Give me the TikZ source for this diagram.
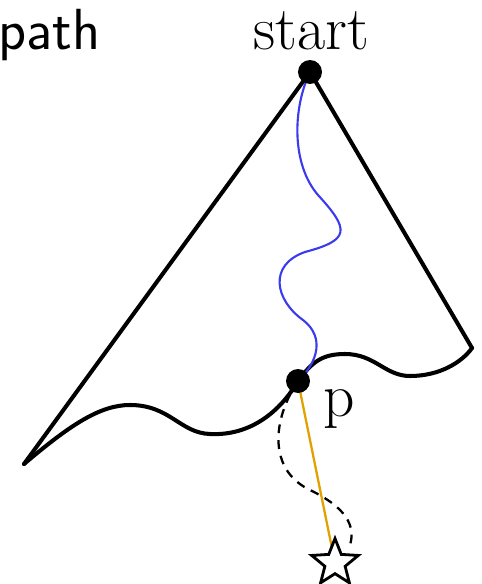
\documentclass[tikz,border=0pt]{standalone}
\usepackage{xcolor}
\usetikzlibrary{shapes.geometric,backgrounds}
\definecolor{walk}{HTML}{3A3AEE}
\definecolor{ray}{HTML}{E3A100}
\tikzset{
  dot/.style={circle, fill=black, inner sep=0pt, minimum size=0.48cm},
  edge/.style={line width=2.3pt, line cap=round, line join=round},
  lbl/.style={font=\fontsize{35}{40}\selectfont, inner sep=0pt},
  goalstar/.style={star, star points=5, star point ratio=2.3, draw, line width=1.6pt, fill=white, minimum size=0.98cm, inner sep=0pt},
}

\begin{document}
\begin{tikzpicture}[x=0.02cm, y=-0.02cm]
  \useasboundingbox (0,0) rectangle (481,584);
  % corners of the region
  \coordinate (lc) at (24,464);
  \coordinate (rc) at (472,348);
  \node[dot] (s) at (310,72) {};
  \node[dot] (p) at (298,381) {};
  \node[goalstar] (goal) at (335,563) {};
  \coordinate (dend) at (350,545);

  \node[lbl, font=\fontsize{33}{40}\selectfont\sffamily, anchor=base west] (tpath) at (-2,50) {path};
  \node[lbl, anchor=base] (tstart) at (311,50) {start};
  \node[lbl, anchor=base] (tp) at (339,416) {p};

  \begin{scope}[on background layer]
    \draw[edge] (lc) -- (s.center) -- (rc);
    \draw[edge] (lc) .. controls (70,425) and (100,405) .. (130,405)
      .. controls (170,405) and (180,433) .. (210,434)
      .. controls (250,436) and (280,412) .. (p.center)
      .. controls (312,362) and (322,354) .. (345,354)
      .. controls (375,354) and (385,376) .. (410,376)
      .. controls (440,376) and (462,362) .. (rc);
    \draw[walk, line width=1.2pt] (s.center) .. controls (292,110) and (292,165) .. (318,195)
      .. controls (350,230) and (350,240) .. (305,252)
      .. controls (268,265) and (275,300) .. (303,320)
      .. controls (325,337) and (318,362) .. (p.center);
    \draw[ray, line width=1.3pt] (p.center) -- (goal.center);
    \draw[dashed, line width=1.3pt, dash pattern=on 5pt off 4pt] (p.center) .. controls (272,420) and (268,470) .. (310,490)
      .. controls (345,507) and (356,525) .. (dend);
  \end{scope}
\end{tikzpicture}
\end{document}
